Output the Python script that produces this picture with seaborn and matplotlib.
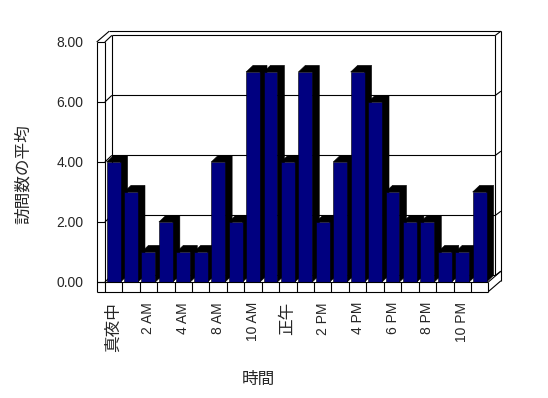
"""
Average visits per hour, drawn as an old-style 3D column chart.
"""

import matplotlib
matplotlib.use("Agg")
import matplotlib.pyplot as plt
import seaborn as sns
from matplotlib.patches import Polygon

# data
hours = ["真夜中", "1 AM", "2 AM", "3 AM", "4 AM", "5 AM", "8 AM", "9 AM",
         "10 AM", "11 AM", "正午", "1 PM", "2 PM", "3 PM", "4 PM", "5 PM",
         "6 PM", "7 PM", "8 PM", "9 PM", "10 PM", "11 PM"]
visits = [4, 3, 1, 2, 1, 1, 4, 2, 7, 7, 4, 7, 2, 4, 7, 6, 3, 2, 2, 1, 1, 3]
y_ticks = [0, 2, 4, 6, 8]
y_tick_labels = ["0.00", "2.00", "4.00", "6.00", "8.00"]
x_label = "時間"
y_label = "訪問数の平均"

sns.set_style("white")
plt.rcParams["font.family"] = ["Liberation Sans", "Noto Sans CJK JP"]

BAR_COLOR = "#000080"
# depth of the fake 3D box (data units)
IX, IY = 0.4, 0.22      # back wall / bar depth
OX, OY = 0.72, 0.36     # outer edge of the walls
XL_OUT = -0.97          # outer face of the left wall
FL = 0.32               # floor thickness
LW = 0.8

fig = plt.figure(figsize=(5.48, 3.98), dpi=100)
ax = fig.add_axes([0.1914, 0.2915, 0.6998, 0.603])

sns.barplot(x=hours, y=visits, order=hours, color=BAR_COLOR, saturation=1,
            width=0.8, edgecolor="black", linewidth=0.4, ax=ax, zorder=3)
bars = list(ax.patches)

# black side/top of each column
for bar in bars:
    x0, h = bar.get_x(), bar.get_height()
    x1 = x0 + bar.get_width()
    pts = [(x0, h), (x0 + IX, h + IY), (x1 + IX, h + IY),
           (x1 + IX, IY), (x1, 0), (x1, h)]
    ax.add_patch(Polygon(pts, closed=True, facecolor="black", edgecolor="black",
                         lw=0.4, zorder=2, clip_on=False))


def seg(p, q, z=1):
    ax.plot([p[0], q[0]], [p[1], q[1]], color="black", lw=LW, zorder=z,
            clip_on=False, solid_capstyle="butt")


xl_in = -0.5
xr = len(hours) - 0.5
top = y_ticks[-1]

# left wall
seg((XL_OUT, -FL), (XL_OUT, top))
seg((xl_in, -FL), (xl_in, top), z=4)
seg((XL_OUT + OX, top + OY), (xr + OX, top + OY))
seg((XL_OUT, top), (XL_OUT + OX, top + OY))
seg((xl_in + IX, IY), (xl_in + IX, top + IY))

# back wall right edge
seg((xr + IX, IY), (xr + IX, top + IY))
seg((xr + OX, -FL + OY), (xr + OX, top + OY))

# gridlines running round the box
for yv in y_ticks:
    seg((XL_OUT, yv), (xl_in, yv))
    seg((xl_in, yv), (xl_in + IX, yv + IY))
    seg((xl_in + IX, yv + IY), (xr + IX, yv + IY))
    seg((xr + IX, yv + IY), (xr + OX, yv + OY))

# floor
seg((XL_OUT, 0), (xr, 0), z=4)
seg((XL_OUT, -FL), (xr, -FL), z=4)
seg((xr, -FL), (xr, 0), z=4)
seg((xr, -FL), (xr + OX, -FL + OY), z=4)
seg((xr, 0), (xr + OX, OY), z=4)
for k in range(len(hours) - 1):
    seg((k + 0.5, -FL), (k + 0.5, 0), z=4)

ax.set_xlim(xl_in, xr)
ax.set_ylim(0, top)
for s in ax.spines.values():
    s.set_visible(False)

ax.set_yticks(y_ticks)
ax.set_yticklabels(y_tick_labels, fontsize=10)
ax.tick_params(axis="y", length=0, pad=15.5)

ax.set_xticks(range(0, len(hours), 2))
ax.set_xticklabels(hours[::2], rotation=90, fontsize=10)
ax.tick_params(axis="x", length=0, pad=14.5)
for lbl in ax.get_xticklabels():
    if not lbl.get_text().isascii():
        lbl.set_fontsize(12)

ax.set_ylabel(y_label, fontsize=12)
ax.yaxis.set_label_coords(-0.193, 0.45)
ax.set_xlabel(x_label, fontsize=12)
ax.xaxis.set_label_coords(0.399, -0.374)

fig.savefig("out.png", dpi=100)
plt.close(fig)
